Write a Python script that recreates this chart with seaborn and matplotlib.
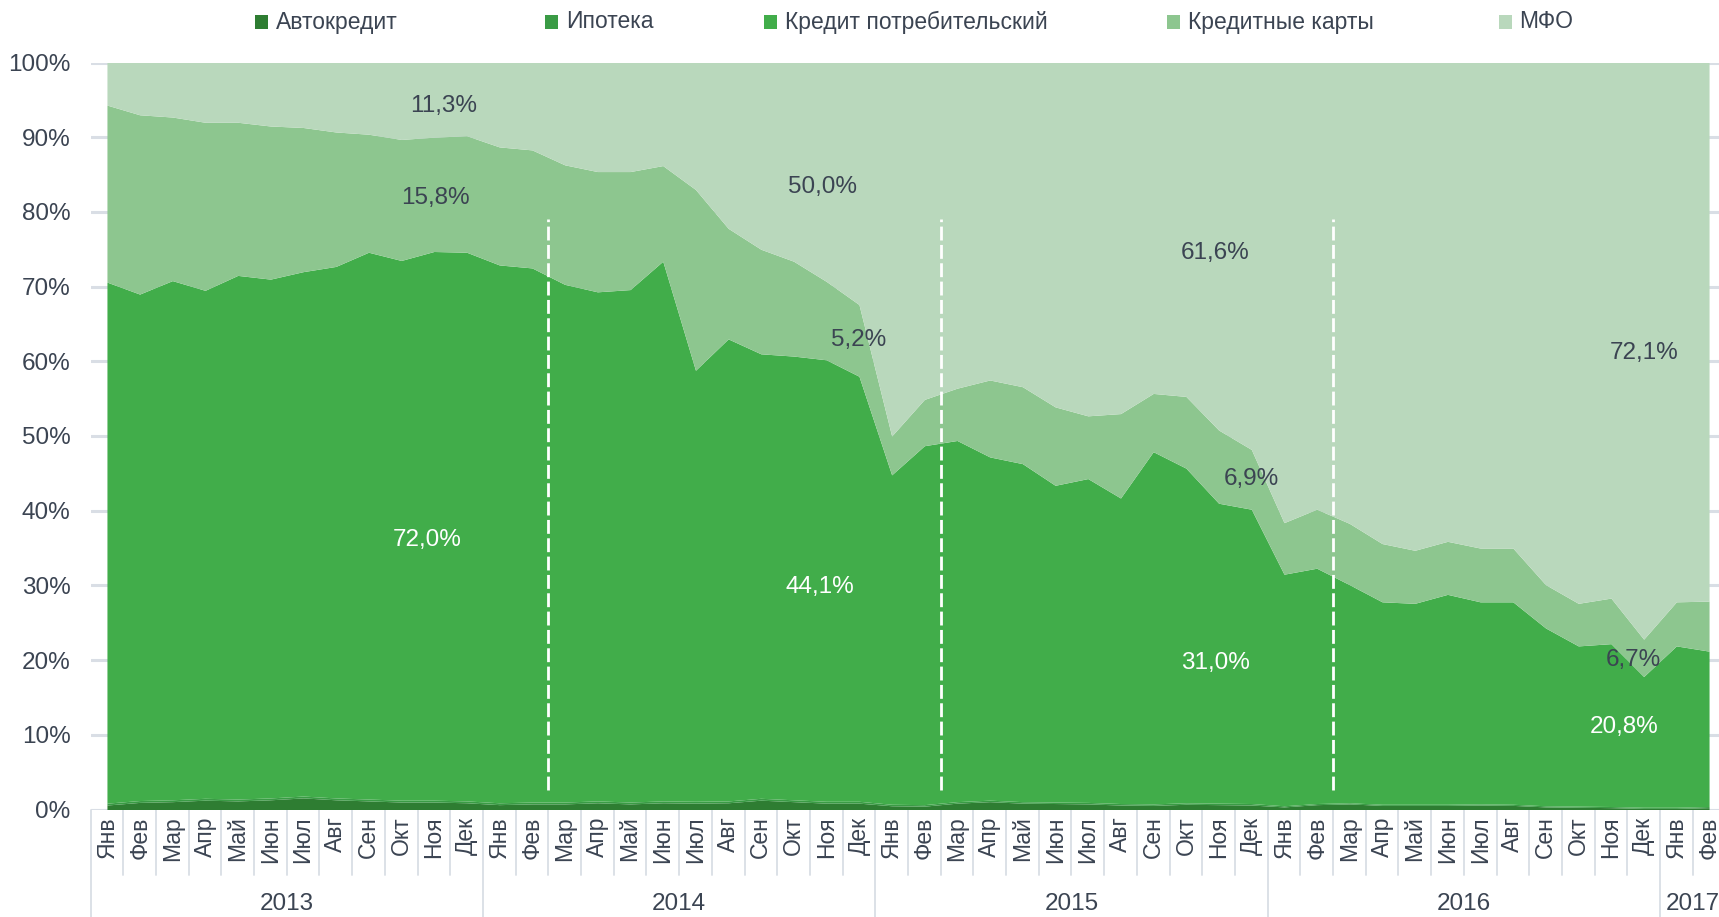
import matplotlib
matplotlib.use("Agg")
import matplotlib.pyplot as plt
import matplotlib.transforms as mtransforms
from matplotlib.patches import Rectangle
import seaborn as sns
import numpy as np

# ---------------- data ----------------
years = ["2013", "2014", "2015", "2016", "2017"]
months = ["Янв", "Фев", "Мар", "Апр", "Май", "Июн", "Июл", "Авг", "Сен", "Окт", "Ноя", "Дек"]
month_labels = months * 4 + ["Янв", "Фев"]
series_names = ["Автокредит", "Ипотека", "Кредит потребительский", "Кредитные карты", "МФО"]

auto = [0.60, 0.95, 1.05, 1.25, 1.15, 1.30, 1.55, 1.30, 1.15, 1.00, 1.00, 0.90,
        0.65, 0.75, 0.75, 0.90, 0.75, 0.90, 0.85, 0.90, 1.25, 1.05, 0.85, 0.85,
        0.50, 0.45, 0.85, 1.05, 0.85, 0.80, 0.75, 0.60, 0.55, 0.70, 0.65, 0.60,
        0.35, 0.65, 0.75, 0.55, 0.55, 0.55, 0.60, 0.55, 0.35, 0.30, 0.25, 0.15,
        0.15, 0.25]
ipoteka = [0.25, 0.25, 0.25, 0.25, 0.25, 0.25, 0.25, 0.25, 0.25, 0.25, 0.25, 0.25,
           0.25, 0.25, 0.25, 0.25, 0.25, 0.25, 0.25, 0.25, 0.25, 0.25, 0.25, 0.25,
           0.20, 0.20, 0.20, 0.20, 0.20, 0.20, 0.20, 0.20, 0.20, 0.20, 0.20, 0.20,
           0.15, 0.15, 0.15, 0.15, 0.15, 0.15, 0.15, 0.15, 0.15, 0.15, 0.15, 0.15,
           0.15, 0.15]
consumer = [69.75, 67.8, 69.5, 68.0, 70.1, 69.45, 70.2, 71.15, 73.2, 72.25, 73.45, 73.45,
            72.0, 71.5, 69.3, 68.15, 68.6, 72.25, 57.7, 61.85, 59.5, 59.4, 59.1, 56.9,
            44.1, 48.05, 48.35, 45.95, 45.25, 42.4, 43.35, 40.9, 47.15, 44.8, 40.15, 39.4,
            31.0, 31.5, 29.2, 27.1, 26.9, 28.1, 27.05, 27.1, 23.8, 21.45, 21.8, 17.5,
            21.6, 20.8]
cards = [23.7, 24.0, 21.9, 22.5, 20.5, 20.5, 19.3, 18.0, 15.8, 16.2, 15.3, 15.6,
         15.8, 15.8, 16.0, 16.1, 15.8, 12.8, 24.2, 14.8, 14.0, 12.7, 10.5, 9.6,
         5.2, 6.2, 7.0, 10.3, 10.3, 10.5, 8.4, 11.3, 7.8, 9.6, 9.8, 8.0,
         6.9, 7.9, 8.2, 7.8, 7.1, 7.1, 7.2, 7.2, 5.8, 5.7, 6.1, 5.0,
         5.9, 6.7]
mfo = [5.7, 7.0, 7.3, 8.0, 8.0, 8.5, 8.7, 9.3, 9.6, 10.3, 10.0, 9.8,
       11.3, 11.7, 13.7, 14.6, 14.6, 13.8, 17.0, 22.2, 25.0, 26.6, 29.3, 32.4,
       50.0, 45.1, 43.6, 42.5, 43.4, 46.1, 47.3, 47.0, 44.3, 44.7, 49.2, 51.8,
       61.6, 59.8, 61.7, 64.4, 65.3, 64.1, 65.0, 65.0, 69.9, 72.4, 71.7, 77.2,
       72.2, 72.1]

# indices of the points whose shares are annotated
label_points = [12, 24, 36, 49]

# ---------------- style ----------------
sns.set_theme(style="white")
plt.rcParams["font.family"] = ["Liberation Sans", "DejaVu Sans"]
TXT = "#3B4452"
GRID = "#D9DEE5"
colors = ["#2E7D32", "#3A9B45", "#41AD4A", "#8DC68F", "#B9D8BC"]
sns.set_palette(colors)

W, H = 1719, 917
fig = plt.figure(figsize=(W / 100, H / 100), dpi=100)
x_left_px, x_right_px = 90.6, 1725.4
y_top_px, y_bot_px = 62.5, 809.5
ax = fig.add_axes([x_left_px / W, 1 - y_bot_px / H,
                   (x_right_px - x_left_px) / W, (y_bot_px - y_top_px) / H])

x = np.arange(len(month_labels))
ax.stackplot(x, auto, ipoteka, consumer, cards, mfo,
             colors=sns.color_palette(), linewidth=0, zorder=2, antialiased=True)

ax.set_xlim(-0.5, len(month_labels) - 0.5)
ax.set_ylim(0, 100)
ax.set_yticks(range(0, 101, 10))
ax.set_yticklabels([f"{v}%" for v in range(0, 101, 10)], color=TXT, fontsize=17.5)
ax.yaxis.grid(True, color=GRID, lw=2.2, zorder=0)
ax.xaxis.grid(False)
ax.set_axisbelow(True)
for s in ax.spines.values():
    s.set_visible(False)
ax.tick_params(axis="y", length=0, pad=14.5)

ax.set_xticks(x)
ax.set_xticklabels(month_labels, rotation=90, color=TXT, fontsize=16.5)
ax.tick_params(axis="x", length=0, pad=5)

# axis line and category separators
ax.axhline(0, color=GRID, lw=2.2, zorder=1)
trans = mtransforms.blended_transform_factory(ax.transData, ax.transAxes)
month_sep_bottom = -(875 - y_bot_px) / (y_bot_px - y_top_px)
year_sep_bottom = -(H - y_bot_px) / (y_bot_px - y_top_px)
for b in np.arange(-0.5, len(month_labels), 1.0):
    is_year = (b + 0.5) % 12 == 0 or b == len(month_labels) - 0.5
    ax.plot([b, b], [0, year_sep_bottom if is_year else month_sep_bottom],
            transform=trans, color=GRID, lw=1.3, clip_on=False, zorder=1)

year_y = -(904 - y_bot_px) / (y_bot_px - y_top_px)
for i, yr in enumerate(years):
    start = i * 12 - 0.5
    end = min(start + 12, len(month_labels) - 0.5)
    ax.text((start + end) / 2, year_y, yr, transform=trans, ha="center", va="center",
            fontsize=17.5, color=TXT)

# dashed year dividers
for xv in [13.5, 25.5, 37.5]:
    ax.plot([xv, xv], [2.6, 79.1], color="white", lw=2.0, dashes=(5.0, 1.6), zorder=4)

# share labels
def fmt(v):
    return f"{v:.1f}".replace(".", ",") + "%"

label_pos = [  # (x_mfo, y_mfo, x_cards, y_cards, x_consumer, y_consumer)
    (10.3, 94.2, 10.05, 81.8, 9.8, 36.1),
    (21.9, 83.3, 23.0, 62.8, 21.8, 29.8),
    (33.9, 74.5, 35.0, 44.2, 33.9, 19.6),
    (47.0, 61.1, 46.7, 20.0, 46.4, 11.0),
]
for idx, (xm, ym, xc, yc, xk, yk) in zip(label_points, label_pos):
    ax.text(xm, ym, fmt(mfo[idx]), ha="center", va="center", fontsize=17.5, color=TXT, zorder=5)
    ax.text(xc, yc, fmt(cards[idx]), ha="center", va="center", fontsize=17.5, color=TXT, zorder=5)
    ax.text(xk, yk, fmt(consumer[idx]), ha="center", va="center", fontsize=17.5, color="white", zorder=5)

# legend (placed item by item, like the original)
legend_x_px = [255, 545, 764, 1166.5, 1498.5]
legend_y_px = 22
sq = 13
for name, c, lx in zip(series_names, colors, legend_x_px):
    fig.patches.append(Rectangle((lx / W, 1 - (legend_y_px + sq / 2) / H), sq / W, sq / H,
                                 transform=fig.transFigure, facecolor=c, edgecolor="none"))
    fig.text((lx + sq + 8) / W, 1 - legend_y_px / H, name, ha="left", va="center",
             fontsize=16.5, color=TXT)

fig.savefig("out.png", dpi=100)
